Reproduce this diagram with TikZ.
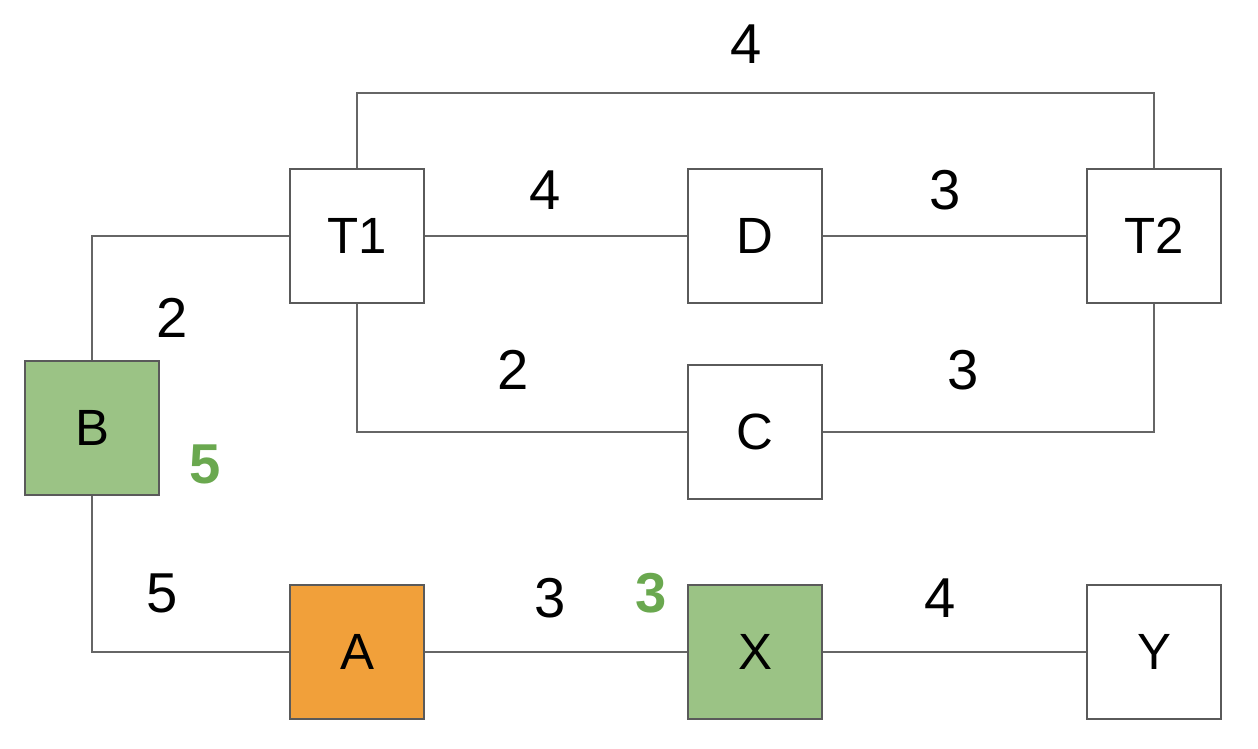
\documentclass[tikz,border=0pt]{standalone}
\usepackage{fontspec}
\setmainfont{Liberation Sans}
\definecolor{linegray}{HTML}{666666}
\definecolor{boxgray}{HTML}{5A5A5A}
\definecolor{hitgreen}{HTML}{9BC385}
\definecolor{bestgreen}{HTML}{6AA84F}
\definecolor{startorange}{HTML}{F1A03A}
\tikzset{
    box/.style={draw=boxgray, line width=1.6pt, minimum size=2.68cm,
                inner sep=0pt, fill=white,
                font=\fontsize{29}{29}\selectfont},
    start/.style={box, fill=startorange},
    hit/.style={box, fill=hitgreen},
    link/.style={draw=linegray, line width=1.1pt},
    cost/.style={font=\fontsize{32}{32}\selectfont},
    best/.style={font=\fontsize{32}{32}\selectfont\bfseries, text=bestgreen},
}

\begin{document}
\begin{tikzpicture}[x=0.02cm, y=-0.02cm]
    \path[use as bounding box] (0,0) rectangle (1258,748);

    % stations
    \node[box] (T1) at (357,236) {T1};
    \node[box] (D) at (755,236) {D};
    \node[box] (T2) at (1154,236) {T2};
    \node[hit] (B) at (92,428) {B};
    \node[box] (C) at (755,432) {C};
    \node[start] (A) at (357,652) {A};
    \node[hit] (X) at (755,652) {X};
    \node[box] (Y) at (1154,652) {Y};

    % links
    \coordinate (top) at (357,93);
    \draw[link] (T1.north) -- (top) -| (T2.north);
    \draw[link] (T1.east) -- (D.west);
    \draw[link] (D.east) -- (T2.west);
    \draw[link] (T1.south) |- (C.west);
    \draw[link] (C.east) -| (T2.south);
    \draw[link] (B.north) |- (T1.west);
    \draw[link] (B.south) |- (A.west);
    \draw[link] (A.east) -- (X.west);
    \draw[link] (X.east) -- (Y.west);

    % costs
    \node[cost] (c1) at (746,44) {4};
    \node[cost] (c2) at (545,190) {4};
    \node[cost] (c3) at (945,190) {3};
    \node[cost] (c4) at (513,370) {2};
    \node[cost] (c5) at (963,370) {3};
    \node[cost] (c6) at (172,318) {2};
    \node[cost] (c7) at (162,593) {5};
    \node[cost] (c8) at (550,598) {3};
    \node[cost] (c9) at (940,598) {4};
    \node[best] (b1) at (205,464) {5};
    \node[best] (b2) at (651,593) {3};
\end{tikzpicture}
\end{document}
